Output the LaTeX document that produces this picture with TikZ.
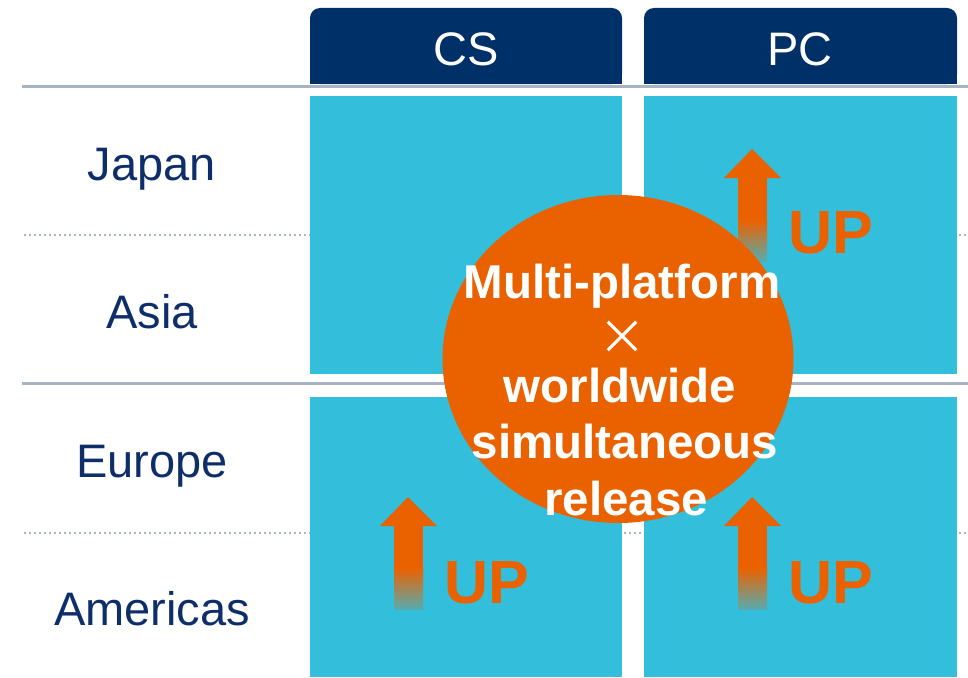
\documentclass[tikz,border=0pt]{standalone}
\usepackage{fontspec}
\setmainfont{Liberation Sans}
\newfontfamily\cjk{Noto Sans CJK JP}
\usetikzlibrary{shapes.geometric}
\definecolor{hdrblue}{RGB}{0,48,104}
\definecolor{labelblue}{RGB}{14,46,106}
\definecolor{cellcyan}{RGB}{51,190,219}
\definecolor{upor}{RGB}{234,98,0}
\definecolor{rulegray}{RGB}{168,180,196}
\begin{document}
\begin{tikzpicture}[x=1pt,y=-1pt,
  header/.style={fill=hdrblue, rounded corners=10pt, minimum width=312pt, minimum height=76pt,
    inner sep=0pt, text=white, font=\fontsize{47}{56}\selectfont},
  cell/.style={fill=cellcyan, minimum width=312pt, inner sep=0pt},
  region/.style={text=labelblue, font=\fontsize{47}{56}\selectfont, anchor=base},
  solidrule/.style={draw=rulegray, line width=3pt},
  dotrule/.style={draw=rulegray, line width=2pt, dash pattern=on 2pt off 3pt},
  uplabel/.style={text=upor, font=\bfseries\fontsize{61}{70}\selectfont, anchor=base west, inner sep=0pt},
  hubtext/.style={text=white, font=\bfseries\fontsize{47.5}{56}\selectfont, anchor=base, inner sep=0pt},
  growth/.pic={
    \fill[upor] (0,0) -- (29,29) -- (-28,29) -- cycle;
    \fill[upor] (-14,28) rectangle (15,72);
    \shade[top color=upor, bottom color=cellcyan!80!upor] (-14,71.5) rectangle (15,112);
  }]
\useasboundingbox (0,0) rectangle (968,677);

% horizontal rules behind the grid
\draw[solidrule] (22,86) -- (968,86);
\draw[solidrule] (22,383) -- (968,383);
\draw[dotrule] (24,235) -- (968,235);
\draw[dotrule] (24,533) -- (968,533);

% column headers (rounded on top only)
\fill[hdrblue] (310,40) rectangle (622,84);
\fill[hdrblue] (644,40) rectangle (957,84);
\node[header] (cs) at (466,46) {};
\node[header, minimum width=313pt] (pc) at (800.5,46) {};
\node[text=white, font=\fontsize{47}{56}\selectfont, anchor=base] (cslabel) at (466,66) {CS};
\node[text=white, font=\fontsize{47}{56}\selectfont, anchor=base] (pclabel) at (800,66) {PC};

% grid cells
\node[cell, minimum height=278pt] (csasia) at (466,235) {};
\node[cell, minimum height=278pt, minimum width=313pt] (pcasia) at (800.5,235) {};
\node[cell, minimum height=280pt] (csamer) at (466,537) {};
\node[cell, minimum height=280pt, minimum width=313pt] (pcamer) at (800.5,537) {};

% region labels
\node[region] (japan) at (152,180) {Japan};
\node[region] (asia) at (152,328) {Asia};
\node[region] (europe) at (152,477) {Europe};
\node[region] (americas) at (152,625) {Americas};

% growth arrows
\pic at (752,149) {growth};
\pic at (408,497) {growth};
\pic at (752,497) {growth};
\node[uplabel] (up1) at (788,253) {UP};
\node[uplabel] (up2) at (444,603) {UP};
\node[uplabel] (up3) at (788,603) {UP};

% central circle
\node[ellipse, fill=upor, minimum width=351pt, minimum height=328pt, inner sep=0pt] (hub) at (618,359) {};
\node[hubtext] (hub1) at (622,298) {Multi-platform};
\node[text=white, font=\cjk\fontsize{48}{56}\selectfont, inner sep=0pt] (hubx) at (622,338) {×};
\node[hubtext] (hub2) at (620,402) {worldwide};
\node[hubtext] (hub3) at (625,458) {simultaneous};
\node[hubtext] (hub4) at (626,515) {release};
\end{tikzpicture}
\end{document}
